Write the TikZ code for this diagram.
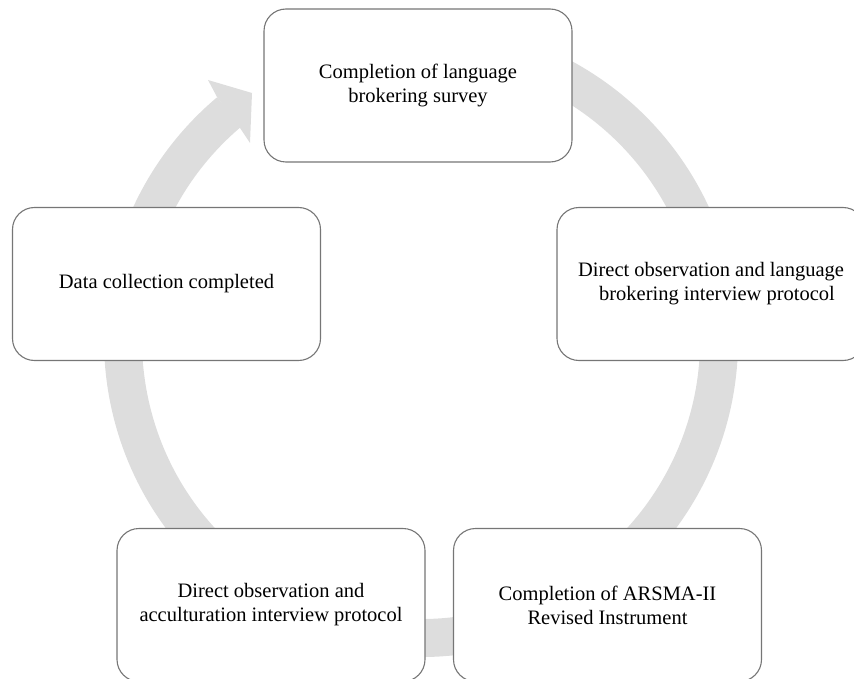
\documentclass[tikz,border=0pt]{standalone}
\usepackage{fontspec}
\setmainfont{Liberation Serif}
\definecolor{ringgray}{RGB}{221,221,221}
\definecolor{boxgray}{RGB}{118,118,118}
\tikzstyle{stage}=[draw=boxgray, line width=1.1pt, fill=white, rounded corners=22pt,
  minimum width=308pt, minimum height=153pt, align=center,
  font=\fontsize{20.5}{24}\selectfont]

\begin{document}
\begin{tikzpicture}[x=1pt, y=-1pt]
\useasboundingbox (0,0) rectangle (854,679);
% Ring
    \coordinate (hub) at (421,340);
    \draw[ringgray, line width=38pt] (hub) ++(-100:298) arc[start angle=-100, end angle=230, radius=298];
% Arrow head
    \fill[ringgray] (217,97) -- (208,80) -- (252,93) -- (250,143) -- (240,128) -- cycle;
% Steps
    \node[stage] (survey) at (418,85.5) {Completion of language\\brokering survey};
    \node[stage] (interviewLB) at (711,284) {Direct observation and language\\\hspace*{12pt}brokering interview protocol};
    \node[stage] (arsma) at (607.5,605) {Completion of ARSMA-II\\Revised Instrument};
    \node[stage] (interviewAcc) at (271,605) {Direct observation and\\acculturation interview protocol};
    \node[stage] (done) at (166.5,284) {Data collection completed};
\end{tikzpicture}
\end{document}
